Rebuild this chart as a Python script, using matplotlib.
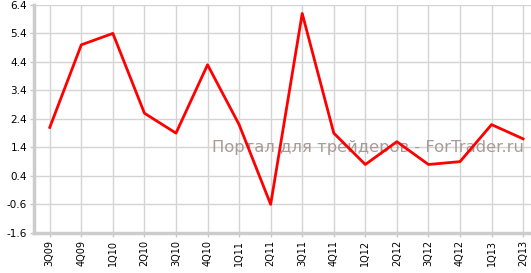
import matplotlib
matplotlib.use('Agg')
from matplotlib import pyplot as plt

quarters = ['3Q09', '4Q09', '1Q10', '2Q10', '3Q10', '4Q10', '1Q11', '2Q11',
            '3Q11', '4Q11', '1Q12', '2Q12', '3Q12', '4Q12', '1Q13', '2Q13']
values = [2.1, 5.0, 5.4, 2.6, 1.9, 4.3, 2.2, -0.6,
          6.1, 1.9, 0.8, 1.6, 0.8, 0.9, 2.2, 1.7]
yticks = [-1.6, -0.6, 0.4, 1.4, 2.4, 3.4, 4.4, 5.4, 6.4]

fig = plt.figure(figsize=(5.31, 2.73), dpi=100)
ax = fig.add_axes([0.064, 0.147, 0.936, 0.835])
x = list(range(len(quarters)))
ax.plot(x, values, color='#ff0000', linewidth=2, zorder=3)

ax.set_xlim(-0.5, 15.25)
ax.set_ylim(-1.6, 6.4)
ax.set_xticks(x)
ax.set_xticklabels(quarters, rotation=90, fontsize=7)
ax.set_yticks(yticks)
ax.set_yticklabels(['%.1f' % v for v in yticks], fontsize=7.5)
ax.grid(True, color='#d4d4d4', linewidth=1)
ax.tick_params(axis='both', length=3, width=1, color='#c8c8c8', pad=2)
for s in ['top', 'right']:
    ax.spines[s].set_visible(False)
for s in ['left', 'bottom']:
    ax.spines[s].set_color('#cccccc')
    ax.spines[s].set_linewidth(2.5)

# watermark sits under the line
ax.text(0.985, 0.373, 'Портал для трейдеров - ForTrader.ru', transform=ax.transAxes,
        ha='right', va='center', fontsize=11.8, color='#a89a98', zorder=2)

plt.savefig('out.png')
plt.close()
